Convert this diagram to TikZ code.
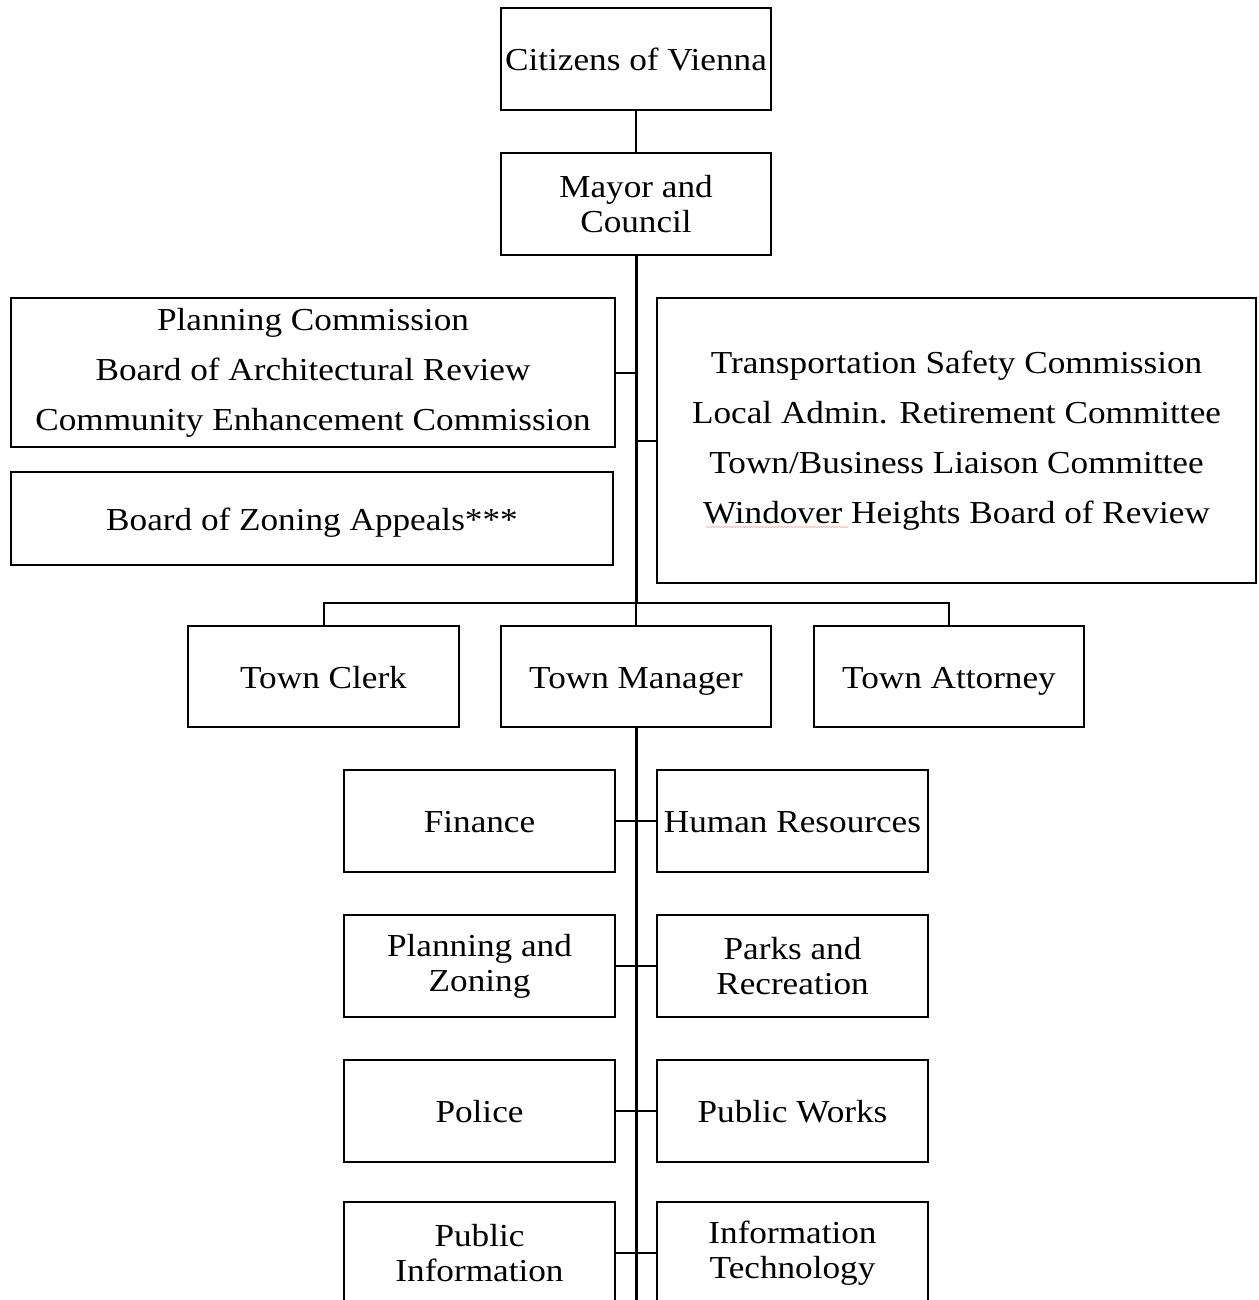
\documentclass[tikz,border=0pt]{standalone}
\usepackage{fontspec}
\setmainfont[FakeStretch=1.1]{Liberation Serif}
\usetikzlibrary{decorations.pathmorphing}
\tikzset{
  box/.style={draw=black, line width=2pt, align=center, inner sep=0pt,
    font=\fontsize{32}{35}\selectfont},
  one/.style={box, text height=24pt, text depth=1pt},
  listbox/.style={box, font=\fontsize{32}{50}\selectfont},
  conn/.style={draw=black, line width=2pt},
  spine/.style={draw=black, line width=3pt},
}
\begin{document}
\begin{tikzpicture}[x=1pt, y=-1pt]
\useasboundingbox (0,0) rectangle (1258,1300);
% top
\node[one, minimum width=270pt, minimum height=102pt] (cit) at (636,59) {Citizens of Vienna};
\node[box, minimum width=270pt, minimum height=102pt] (mayor) at (636,204) {Mayor and\\Council};
% boards
\node[listbox, minimum width=604pt, minimum height=149pt] (lb1) at (313,372.5)
  {Planning Commission\\Board of Architectural Review\\Community Enhancement Commission};
\node[one, minimum width=602pt, minimum height=93pt] (lb2) at (312,518.5) {Board of Zoning Appeals***};
\node[listbox, minimum width=599pt, minimum height=285pt] (rb) at (956.5,440.5)
  {Transportation Safety Commission\\Local Admin. Retirement Committee\\Town/Business Liaison Committee\\Windover Heights Board of Review};
% officers
\node[one, minimum width=271pt, minimum height=101pt] (clerk) at (323.5,676.5) {Town Clerk};
\node[one, minimum width=270pt, minimum height=101pt] (mgr) at (636,676.5) {Town Manager};
\node[one, minimum width=270pt, minimum height=101pt] (att) at (949,676.5) {Town Attorney};
% departments
\node[one, minimum width=271pt, minimum height=102pt] (fin) at (479.5,821) {Finance};
\node[one, minimum width=271pt, minimum height=102pt] (hr) at (792.5,821) {Human Resources};
\node[box, minimum width=271pt, minimum height=102pt] (plz) at (479.5,966) {Planning and\\Zoning};
\node[box, minimum width=271pt, minimum height=102pt] (parks) at (792.5,966) {Parks and\\Recreation};
\node[one, minimum width=271pt, minimum height=102pt] (pol) at (479.5,1111) {Police};
\node[one, minimum width=271pt, minimum height=102pt] (pw) at (792.5,1111) {Public Works};
\node[box, minimum width=271pt, minimum height=102pt] (pi) at (479.5,1253) {Public\\Information};
\node[box, minimum width=271pt, minimum height=102pt] (it) at (792.5,1253) {Information\\Technology};
% spell-check underline
\draw[red!35, line width=0.6pt, decorate, decoration={snake, amplitude=0.6pt, segment length=3pt}]
  (706,527) -- (848,527);
% connectors
\coordinate (bar) at (636,603);
\coordinate (bottom) at (636,1300);
\draw[conn] (cit.south) -- (mayor.north);
\draw[spine] (mayor.south) -- (bar);
\draw[conn] (lb1.east) -- (lb1.east -| mayor.south);
\draw[conn] (rb.west) -- (rb.west -| mayor.south);
\draw[conn] (clerk.north) |- (bar) -| (att.north);
\draw[conn] (bar) -- (mgr.north);
\draw[spine] (mgr.south) -- (bottom);
\draw[conn] (fin.east) -- (hr.west);
\draw[conn] (plz.east) -- (parks.west);
\draw[conn] (pol.east) -- (pw.west);
\draw[conn] (pi.east) -- (it.west);
\end{tikzpicture}
\end{document}
